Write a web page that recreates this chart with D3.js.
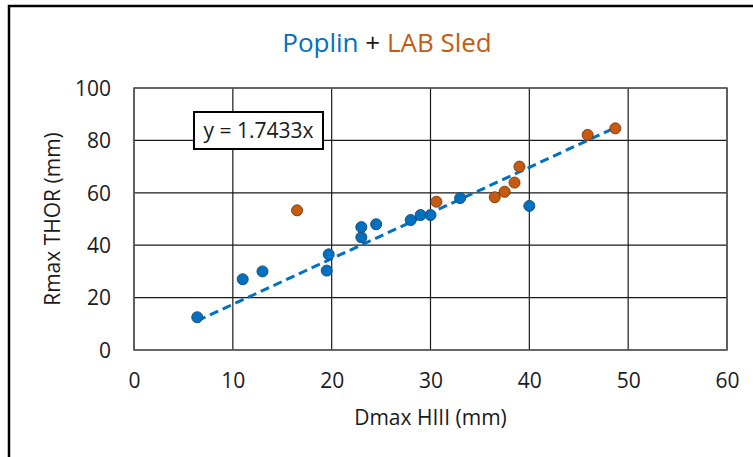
<!DOCTYPE html>
<html>
<head>
<meta charset="utf-8">
<script src="https://cdn.jsdelivr.net/npm/d3@7"></script>
<style>
  html, body { margin: 0; padding: 0; background: #fff; }
  svg { display: block; font-family: "Open Sans", sans-serif; }
</style>
</head>
<body>
<svg id="chart" width="753" height="457"></svg>
<script>
// ---- data ----
const poplinX = [6.4, 11.0, 13.0, 19.5, 19.7, 23.0, 23.0, 24.5, 28.0, 29.0, 30.0, 33.0, 40.0];
const poplinY = [12.5, 27.0, 30.0, 30.3, 36.5, 43.0, 46.9, 48.0, 49.6, 51.5, 51.5, 58.0, 55.0];
const sledX = [16.5, 30.6, 36.5, 37.5, 38.5, 39.0, 45.9, 48.7];
const sledY = [53.3, 56.6, 58.3, 60.4, 63.9, 70.0, 82.1, 84.6];
const xTicks = [0, 10, 20, 30, 40, 50, 60];
const yTicks = [0, 20, 40, 60, 80, 100];
const trendSlope = 1.7433;
const trendLabel = "y = 1.7433x";
const titleParts = [
  { text: "Poplin", color: "#0070C0" },
  { text: " + ", color: "#1a1a1a" },
  { text: "LAB Sled", color: "#C55A11" }
];
const xTitle = "Dmax HIII (mm)";
const yTitle = "Rmax THOR (mm)";

// ---- layout ----
const svg = d3.select("#chart");
const plot = { left: 134, right: 727, top: 88, bottom: 350 };
const x = d3.scaleLinear().domain([0, 60]).range([plot.left, plot.right]);
const y = d3.scaleLinear().domain([0, 100]).range([plot.bottom, plot.top]);

// outer chart border (extends beyond the window on the right/bottom)
svg.append("rect")
  .attr("x", 9).attr("y", 6)
  .attr("width", 800).attr("height", 500)
  .attr("fill", "#fff").attr("stroke", "#000").attr("stroke-width", 2.5);

// title
const title = svg.append("text")
  .attr("x", 387).attr("y", 52)
  .attr("text-anchor", "middle")
  .attr("font-size", 26);
titleParts.forEach(p => {
  title.append("tspan").attr("fill", p.color).attr("xml:space", "preserve").text(p.text);
});

// gridlines
const grid = svg.append("g");
grid.selectAll("line.h").data(yTicks).join("line")
  .attr("x1", plot.left).attr("x2", plot.right)
  .attr("y1", d => y(d)).attr("y2", d => y(d))
  .attr("stroke", "#1a1a1a").attr("stroke-width", 1.2);
grid.selectAll("line.v").data(xTicks).join("line")
  .attr("y1", plot.top).attr("y2", plot.bottom)
  .attr("x1", d => x(d)).attr("x2", d => x(d))
  .attr("stroke", "#1a1a1a").attr("stroke-width", 1.2);

// plot frame
svg.append("rect")
  .attr("x", plot.left).attr("y", plot.top)
  .attr("width", plot.right - plot.left).attr("height", plot.bottom - plot.top)
  .attr("fill", "none").attr("stroke", "#595959").attr("stroke-width", 1.5);

// axes (labels only)
const xAxis = svg.append("g")
  .attr("transform", `translate(0,${plot.bottom})`)
  .call(d3.axisBottom(x).tickValues(xTicks).tickSize(0).tickPadding(23));
const yAxis = svg.append("g")
  .attr("transform", `translate(${plot.left},0)`)
  .call(d3.axisLeft(y).tickValues(yTicks).tickSize(0).tickPadding(23));
[xAxis, yAxis].forEach(a => {
  a.select(".domain").remove();
  a.selectAll("text").attr("font-size", 21).attr("fill", "#1a1a1a")
    .attr("font-family", "'Open Sans', sans-serif");
});
yAxis.selectAll("text").attr("dy", "0.35em");

// axis titles
svg.append("text")
  .attr("x", x(30)).attr("y", 425)
  .attr("text-anchor", "middle").attr("font-size", 21).attr("fill", "#1a1a1a")
  .text(xTitle);
svg.append("text")
  .attr("transform", `translate(60,${y(50) - 0})rotate(-90)`)
  .attr("text-anchor", "middle").attr("font-size", 21).attr("fill", "#1a1a1a")
  .text(yTitle);

// trendline (through origin), spans data x-range
const allX = poplinX.concat(sledX);
const xMin = d3.min(allX), xMax = d3.max(allX);
svg.append("line")
  .attr("x1", x(xMin)).attr("y1", y(trendSlope * xMin))
  .attr("x2", x(xMax)).attr("y2", y(trendSlope * xMax))
  .attr("stroke", "#0070C0").attr("stroke-width", 3)
  .attr("stroke-dasharray", "9,5");

// points
const poplin = poplinX.map((v, i) => ({ x: v, y: poplinY[i] }));
const sled = sledX.map((v, i) => ({ x: v, y: sledY[i] }));
svg.append("g").selectAll("circle").data(poplin).join("circle")
  .attr("cx", d => x(d.x)).attr("cy", d => y(d.y)).attr("r", 5.5)
  .attr("fill", "#0070C0").attr("stroke", "#1F4E79").attr("stroke-width", 1);
svg.append("g").selectAll("circle").data(sled).join("circle")
  .attr("cx", d => x(d.x)).attr("cy", d => y(d.y)).attr("r", 5.5)
  .attr("fill", "#C55A11").attr("stroke", "#843C0C").attr("stroke-width", 1);

// trendline equation label
svg.append("rect")
  .attr("x", 194).attr("y", 112).attr("width", 129).attr("height", 37)
  .attr("fill", "#fff").attr("stroke", "#000").attr("stroke-width", 2);
svg.append("text")
  .attr("x", 258.5).attr("y", 138)
  .attr("text-anchor", "middle").attr("font-size", 21).attr("fill", "#1a1a1a")
  .text(trendLabel);
</script>
</body>
</html>
